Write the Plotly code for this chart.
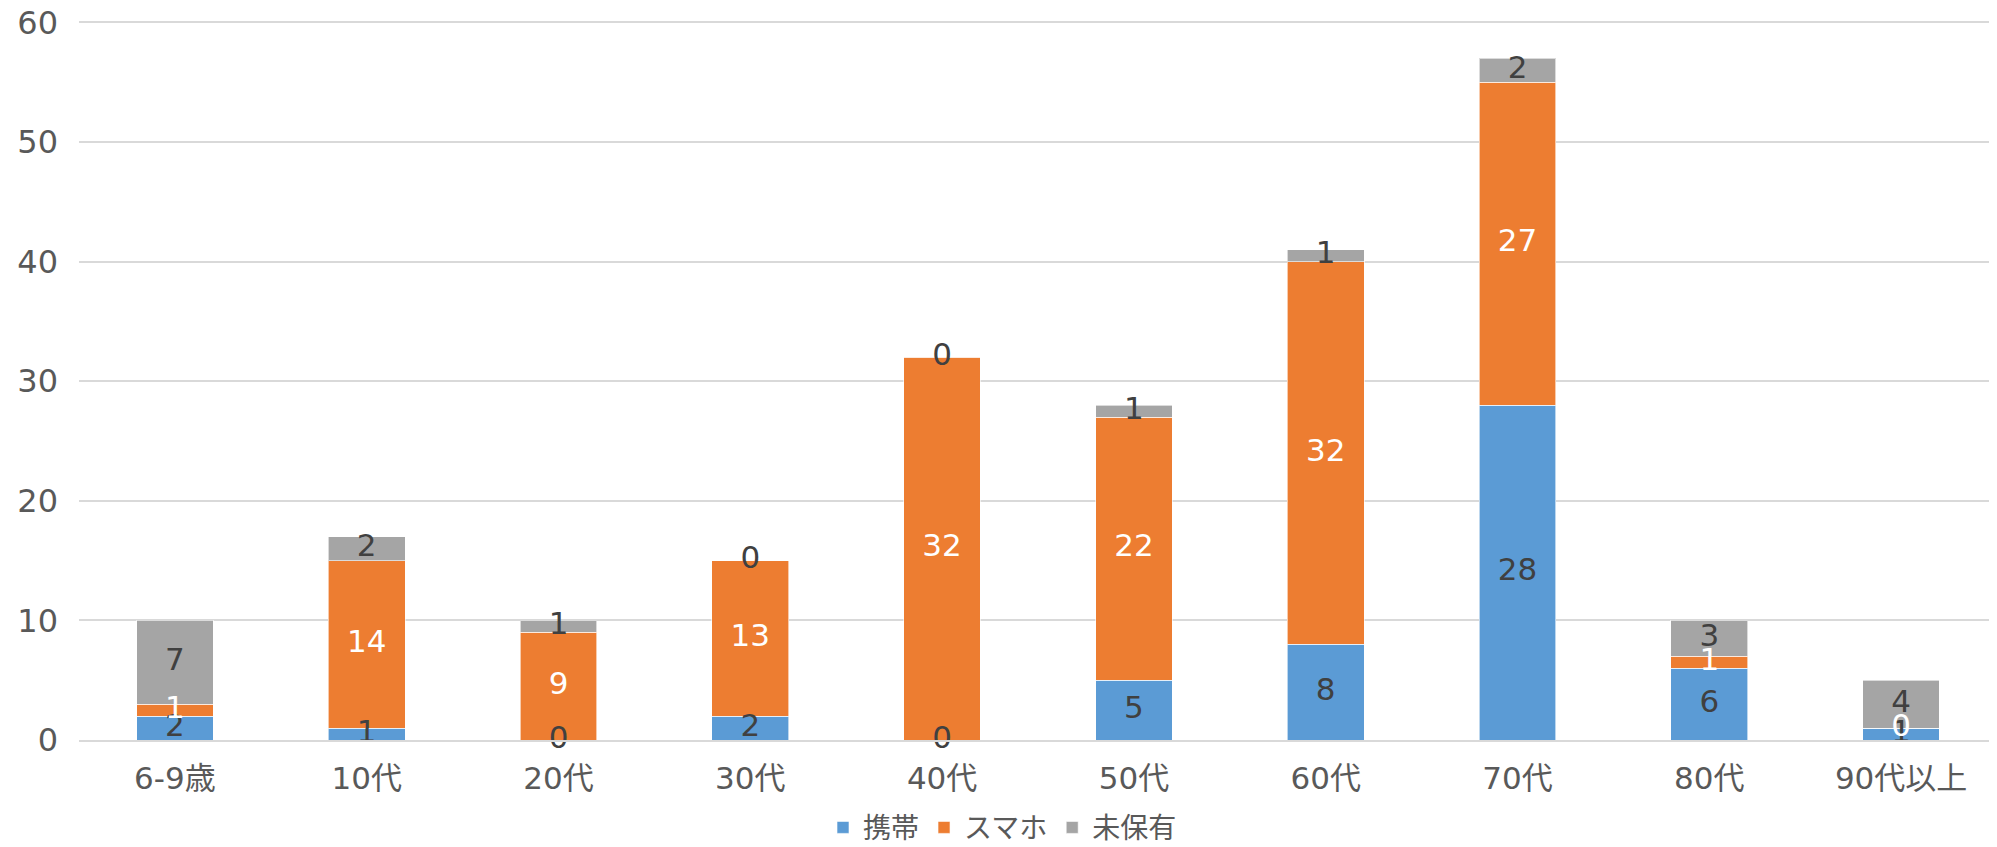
import plotly.graph_objects as go

categories = ["6-9歳", "10代", "20代", "30代", "40代", "50代", "60代", "70代", "80代", "90代以上"]
keitai = [2, 1, 0, 2, 0, 5, 8, 28, 6, 1]
sumaho = [1, 14, 9, 13, 32, 22, 32, 27, 1, 0]
mihoyu = [7, 2, 1, 0, 0, 1, 1, 2, 3, 4]
y_ticks = [0, 10, 20, 30, 40, 50, 60]

series = [
    ("携帯", keitai, "#5B9BD5", "#404040"),
    ("スマホ", sumaho, "#ED7D31", "#FFFFFF"),
    ("未保有", mihoyu, "#A5A5A5", "#404040"),
]

FONT = "DejaVu Sans, Noto Sans CJK JP"
fig = go.Figure()
base = [0] * len(categories)
label_traces = []
for name, vals, color, tcolor in series:
    fig.add_trace(go.Bar(
        x=categories, y=vals, name=name,
        marker=dict(color=color, line=dict(width=1, color="rgba(255,255,255,0.6)")),
        hoverinfo="skip",
    ))
    mids = [b + v / 2 for b, v in zip(base, vals)]
    label_traces.append(go.Scatter(
        x=categories, y=mids, mode="text", text=[str(v) for v in vals],
        textfont=dict(family=FONT, size=31, color=tcolor),
        showlegend=False, hoverinfo="skip", cliponaxis=False,
    ))
    base = [b + v for b, v in zip(base, vals)]
for t in label_traces:
    fig.add_trace(t)

fig.update_layout(
    barmode="stack",
    bargap=0.6,
    width=1989, height=839,
    margin=dict(l=71, r=0, t=12, b=107),
    paper_bgcolor="white", plot_bgcolor="white",
    font=dict(family=FONT, color="#595959", size=31),
    legend=dict(orientation="h", x=0.5, xanchor="center", xref="container",
                y=0.023, yanchor="middle", yref="container",
                font=dict(family="Noto Sans CJK JP", size=28, color="#595959"),
                itemwidth=30, traceorder="normal", tracegroupgap=0),
    showlegend=True,
)
fig.update_yaxes(range=[0, 60.2], tickvals=y_ticks, gridcolor="#D9D9D9", gridwidth=1.5,
                 zeroline=False, showline=False, ticks="", tickfont=dict(size=32, color="#595959"),
                 ticklabelstandoff=20, automargin=False, ticklabeloverflow="allow")
fig.update_xaxes(showline=True, linecolor="#D9D9D9", linewidth=1.5, ticks="",
                 tickfont=dict(size=31, color="#595959"), ticklabelstandoff=10, automargin=False)
fig.write_html("out.html")
